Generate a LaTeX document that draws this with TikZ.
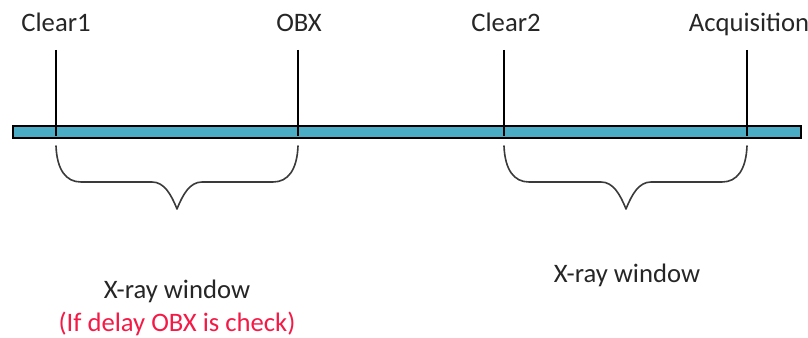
\documentclass[tikz,border=0pt]{standalone}
\usepackage{fontspec}
\setmainfont{Carlito}
\definecolor{bartea}{HTML}{4BACC6}
\definecolor{txtgray}{HTML}{262626}
\definecolor{notered}{RGB}{245,25,70}
\definecolor{bracegray}{HTML}{3A3A3A}
\begin{document}
\begin{tikzpicture}[x=0.75pt,y=-0.75pt,
  lbl/.style={font=\fontsize{20}{24}\selectfont, text=txtgray, anchor=base, inner sep=0pt},
  tick/.style={line width=1.6pt, black},
  bracepath/.style={line width=1.2pt, bracegray, line cap=round, line join=round}]
\useasboundingbox (0,0) rectangle (808,338);
% bar
\node[draw=black, line width=1.6pt, fill=bartea, minimum width=788*0.75pt, minimum height=12*0.75pt, inner sep=0pt, anchor=north west] (bar) at (12,125) {};
% labels
\node[lbl] (clear1) at (56,32) {Clear1};
\node[lbl] (obx) at (299,32) {OBX};
\node[lbl] (clear2) at (506,32) {Clear2};
\node[lbl] (acq) at (749,32) {Acquisition};
% tick coordinates
\coordinate (c1t) at (56,50);  \coordinate (c1b) at (56,136);
\coordinate (obt) at (298,50); \coordinate (obb) at (298,136);
\coordinate (c2t) at (504,50); \coordinate (c2b) at (504,136);
\coordinate (aqt) at (747,50); \coordinate (aqb) at (747,136);
\draw[tick] (c1t) -- (c1b);
\draw[tick] (obt) -- (obb);
\draw[tick] (c2t) -- (c2b);
\draw[tick] (aqt) -- (aqb);
% braces
\draw[bracepath] (56,146) .. controls (57,170) and (66,182) .. (81,182) -- (152,182)
  .. controls (164,182) and (171,194) .. (177,209)
  .. controls (183,194) and (190,182) .. (202,182) -- (273,182)
  .. controls (288,182) and (297,170) .. (298,146);
\draw[bracepath] (504,146) .. controls (505,170) and (514,182) .. (529,182) -- (601,182)
  .. controls (613,182) and (620,194) .. (626,209)
  .. controls (632,194) and (639,182) .. (651,182) -- (722,182)
  .. controls (737,182) and (746,170) .. (747,146);
% window labels
\node[lbl] (win1) at (177,299) {X-ray window};
\node[lbl, text=notered] (note1) at (177,332) {(If delay OBX is check)};
\node[lbl] (win2) at (627,283) {X-ray window};
\end{tikzpicture}
\end{document}
